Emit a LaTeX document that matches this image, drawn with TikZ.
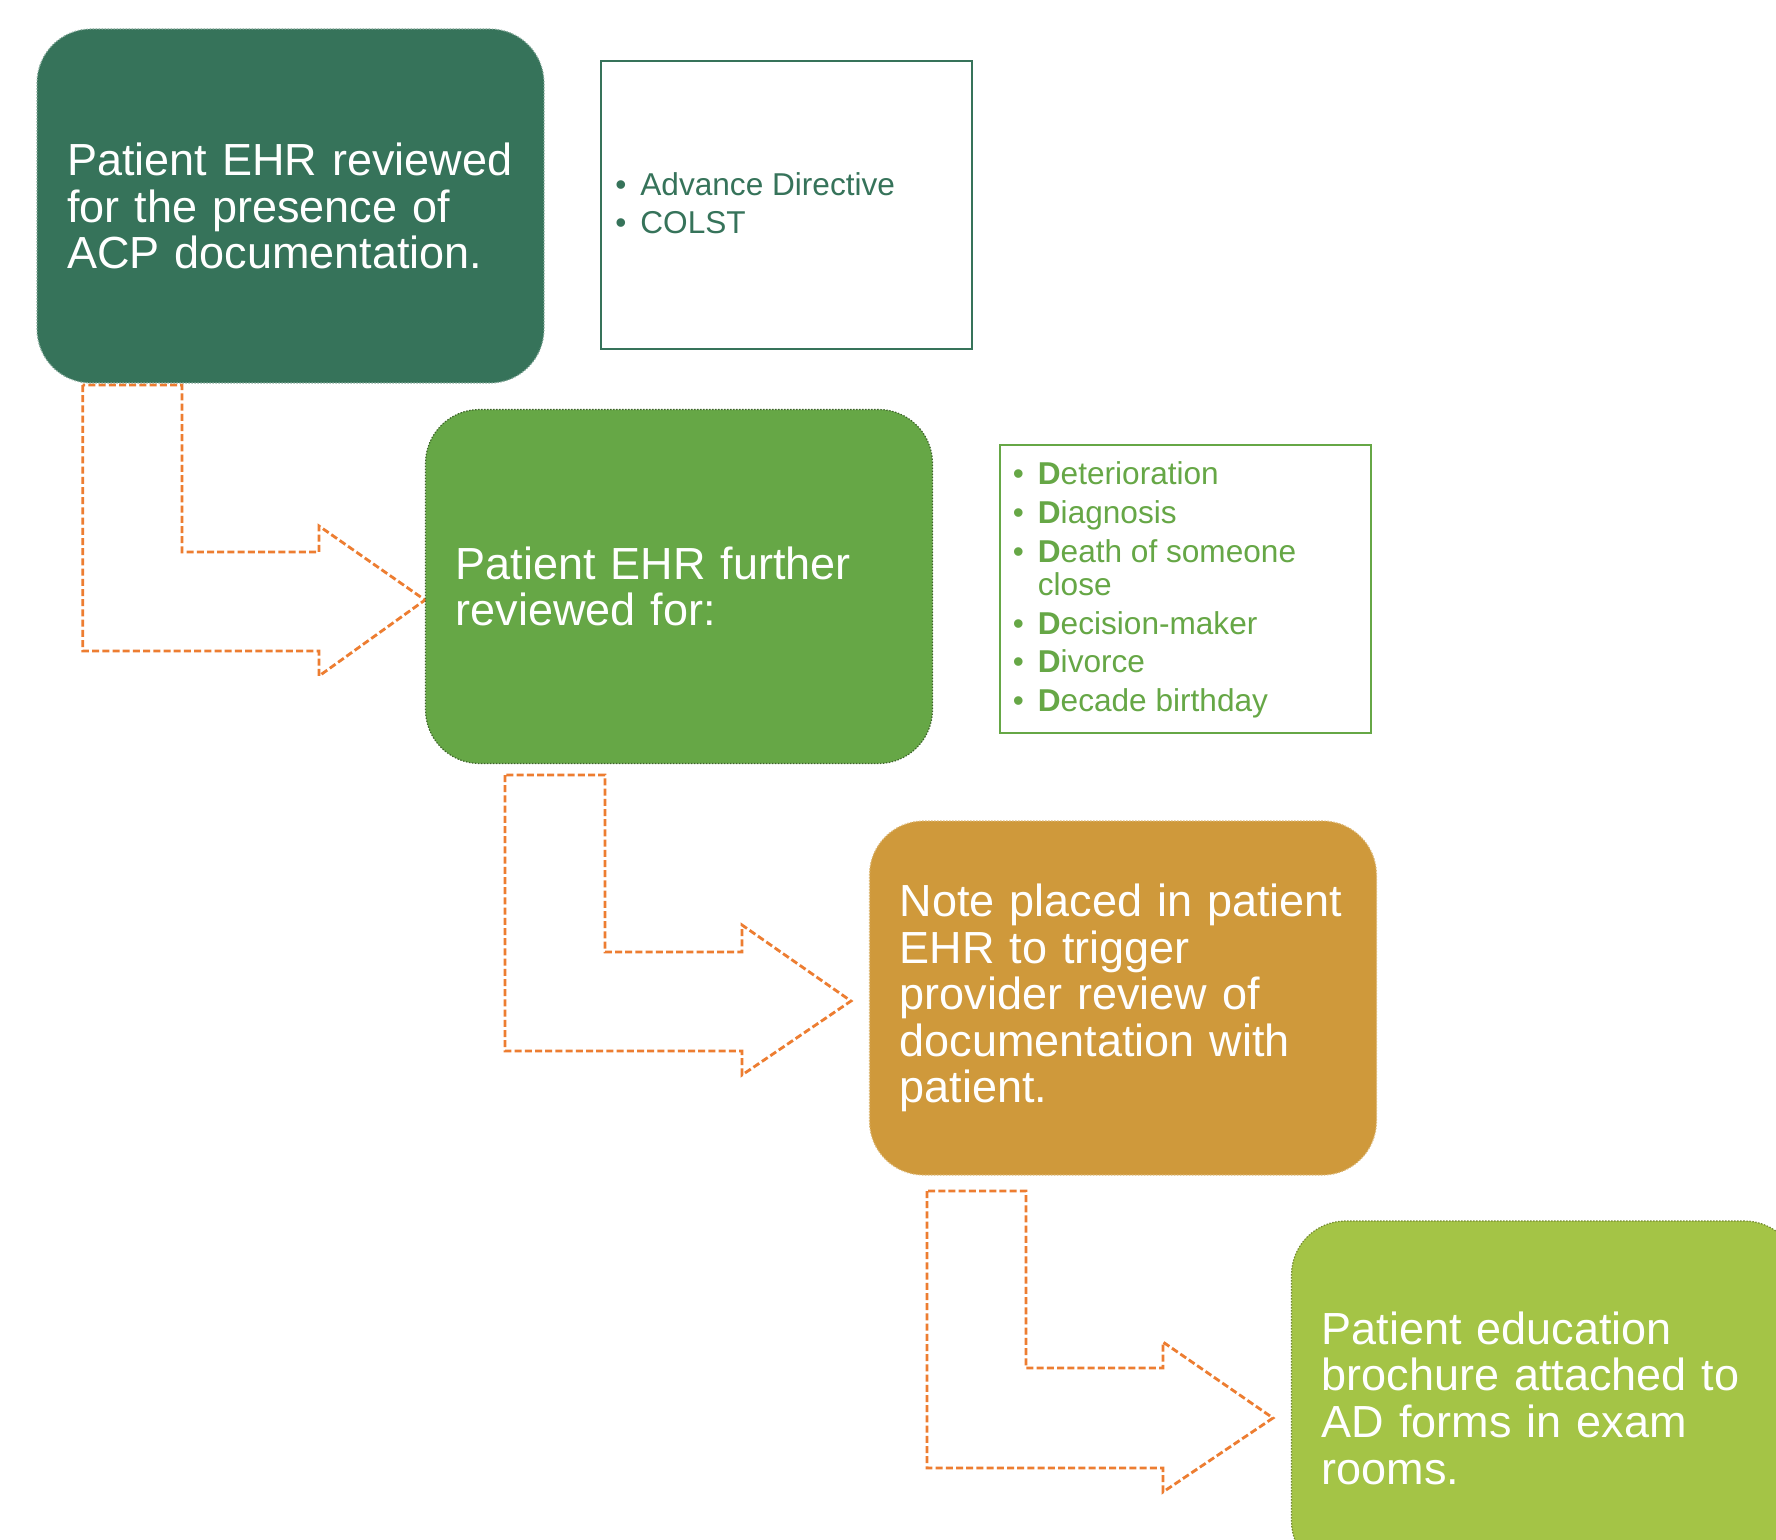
\documentclass[tikz,border=0pt]{standalone}
\usepackage{fontspec}
\setmainfont{Liberation Sans}
\definecolor{dkgreen}{RGB}{54,115,90}
\definecolor{midgreen}{RGB}{102,167,70}
\definecolor{ochre}{RGB}{207,153,59}
\definecolor{lime}{RGB}{164,196,70}
\definecolor{arrowor}{RGB}{237,125,49}
\newcommand{\bigtxt}{\fontsize{22.5pt}{23.3pt}\selectfont}
\newcommand{\listtxt}{\fontsize{15.8pt}{16.6pt}\selectfont}
\newcommand{\bul}{\makebox[12.5pt][l]{•}}
\newcommand{\bulsp}{\hspace*{12.5pt}}
\tikzset{
  bigbox/.style={rectangle, rounded corners=27pt, minimum width=253.5pt,
    minimum height=177pt, text width=223.5pt, inner xsep=15pt, inner ysep=0pt,
    align=left, text=white, font=\bigtxt, line width=0.6pt,
    dash pattern=on 0.7pt off 0.8pt},
  listbox/.style={rectangle, minimum width=185.5pt, minimum height=144pt,
    line width=1pt, inner sep=0pt},
  listtext/.style={anchor=west, inner sep=0pt, align=left, font=\listtxt},
  bendarrow/.style={draw=arrowor, line width=1.4pt, dash pattern=on 3.5pt off 1.6pt, fill=white}
}
\begin{document}
\begin{tikzpicture}[x=0.5pt,y=-0.5pt]
\useasboundingbox (0,0) rectangle (1776,1540);
\clip (0,0) rectangle (1776,1540);
\fill[white] (0,0) rectangle (1776,1540);

% bent arrows
\draw[bendarrow] (82.7,385) -- (82.7,651) -- (319,651) -- (319,676) -- (425,600)
  -- (319,526) -- (319,552) -- (182,552) -- (182,385) -- cycle;
\draw[bendarrow] (505,775) -- (505,1051) -- (742,1051) -- (742,1075) -- (851,1001)
  -- (742,925) -- (742,952) -- (605,952) -- (605,775) -- cycle;
\draw[bendarrow] (927,1191) -- (927,1468) -- (1163,1468) -- (1163,1492) -- (1273,1418)
  -- (1163,1342) -- (1163,1368) -- (1026,1368) -- (1026,1191) -- cycle;

% main boxes
\node[bigbox, fill=dkgreen, draw=dkgreen!60!white] (b1) at (290.5,206)
  {Patient EHR reviewed\\for the presence of\\ACP documentation.};
\node[bigbox, fill=midgreen, draw=midgreen!60!black] (b2) at (679,586.5)
  {Patient EHR further\\reviewed for:};
\node[bigbox, fill=ochre, draw=ochre!70!white] (b3) at (1123,998)
  {Note placed in patient\\EHR to trigger\\provider review of\\documentation with\\patient.};
\node[bigbox, fill=lime, draw=lime!70!black] (b4) at (1545,1398)
  {Patient education\\brochure attached to\\AD forms in exam\\rooms.};

% list boxes
\node[listbox, draw=dkgreen] (l1) at (786.5,205) {};
\node[listtext, text=dkgreen] (l1t) at (615,203)
  {\bul Advance Directive\\[2.2pt]\bul COLST};

\node[listbox, draw=midgreen] (l2) at (1185.5,589) {};
\node[listtext, text=midgreen] (l2t) at (1012.5,590)
  {\bul\textbf{D}eterioration\\[2.8pt]
   \bul\textbf{D}iagnosis\\[2.8pt]
   \bul\textbf{D}eath of someone\\
   \bulsp close\\[2.8pt]
   \bul\textbf{D}ecision-maker\\[2.8pt]
   \bul\textbf{D}ivorce\\[2.8pt]
   \bul\textbf{D}ecade birthday};
\end{tikzpicture}
\end{document}
